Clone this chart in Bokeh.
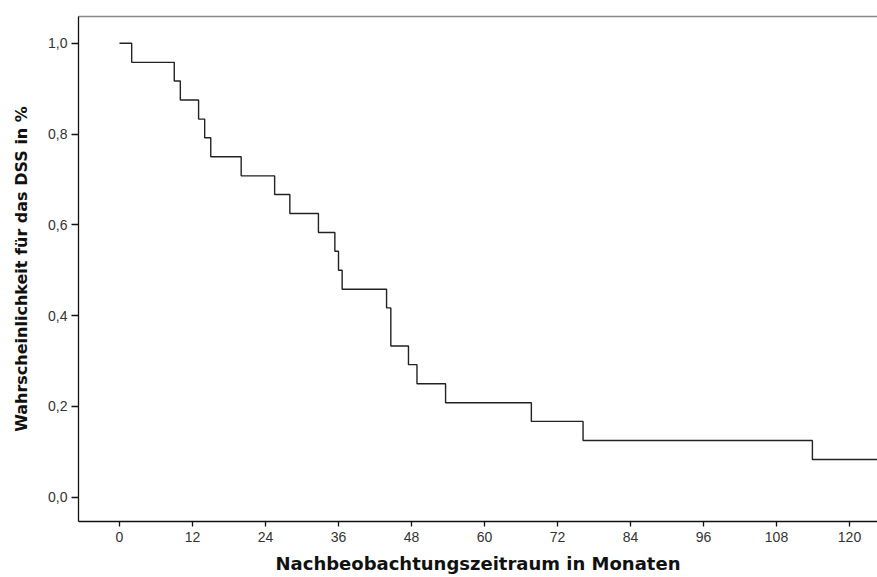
from bokeh.plotting import figure
from bokeh.models import Range1d, FixedTicker, CustomJSTickFormatter, LinearAxis
from bokeh.embed import file_html
from bokeh.resources import INLINE

# Kaplan-Meier estimate (disease-specific survival)
months = [0, 2, 9, 10, 13, 14, 15, 20, 25.5, 28, 32.7, 35.4, 36, 36.6,
          43.9, 44.6, 44.6, 47.5, 48.9, 53.6, 67.7, 76.2, 113.9, 125]
survival = [1.0, 0.958, 0.917, 0.875, 0.833, 0.792, 0.75, 0.708, 0.667, 0.625,
            0.583, 0.542, 0.5, 0.458, 0.417, 0.375, 0.333, 0.292, 0.25, 0.208,
            0.167, 0.125, 0.083, 0.083]

x_ticks = [0, 12, 24, 36, 48, 60, 72, 84, 96, 108, 120]
y_ticks = [0.0, 0.2, 0.4, 0.6, 0.8, 1.0]

FONT = "Liberation Sans"
TFONT = "DejaVu Sans"

p = figure(width=877, height=577, output_backend="svg", toolbar_location=None,
           x_range=Range1d(-6.74, 124.6), y_range=Range1d(-0.0535, 1.059),
           min_border_left=78, min_border_right=0, min_border_top=16,
           min_border_bottom=56)
p.background_fill_color = "white"
p.border_fill_color = "white"
p.outline_line_color = None
p.xgrid.visible = False
p.ygrid.visible = False

p.step(months, survival, mode="after", line_color="#222222", line_width=1.4)

# x axis
xa = p.xaxis[0]
xa.ticker = FixedTicker(ticks=x_ticks)
xa.minor_tick_line_color = None
xa.major_tick_in = 0
xa.major_tick_out = 5
xa.axis_line_color = "#111111"
xa.axis_line_width = 1.3
xa.major_tick_line_color = "#111111"
xa.major_tick_line_width = 1.3
xa.major_label_text_font = FONT
xa.major_label_text_font_size = "14px"
xa.major_label_text_color = "#333333"
xa.major_label_standoff = 5
xa.axis_label = "Nachbeobachtungszeitraum in Monaten"
xa.axis_label_text_font = TFONT
xa.axis_label_text_font_style = "bold"
xa.axis_label_text_font_size = "18px"
xa.axis_label_text_color = "#111111"
xa.axis_label_standoff = 8

# y axis
ya = p.yaxis[0]
ya.ticker = FixedTicker(ticks=y_ticks)
ya.formatter = CustomJSTickFormatter(code="return tick.toFixed(1).replace('.', ',');")
ya.minor_tick_line_color = None
ya.major_tick_in = 0
ya.major_tick_out = 7
ya.axis_line_color = "#111111"
ya.axis_line_width = 1.3
ya.major_tick_line_color = "#111111"
ya.major_tick_line_width = 1.3
ya.major_label_text_font = FONT
ya.major_label_text_font_size = "14px"
ya.major_label_text_color = "#333333"
ya.major_label_standoff = 4
ya.axis_label = "Wahrscheinlichkeit für das DSS in %"
ya.axis_label_text_font = TFONT
ya.axis_label_text_font_style = "bold"
ya.axis_label_text_font_size = "16px"
ya.axis_label_text_color = "#111111"
ya.axis_label_standoff = 14

# top border line only
top = LinearAxis(ticker=FixedTicker(ticks=[]), major_label_text_font_size="0px",
                 axis_line_color="#888888", axis_line_width=1.5,
                 major_tick_line_color=None, minor_tick_line_color=None)
p.add_layout(top, "above")

open("out.html", "w").write(file_html(p, INLINE))
